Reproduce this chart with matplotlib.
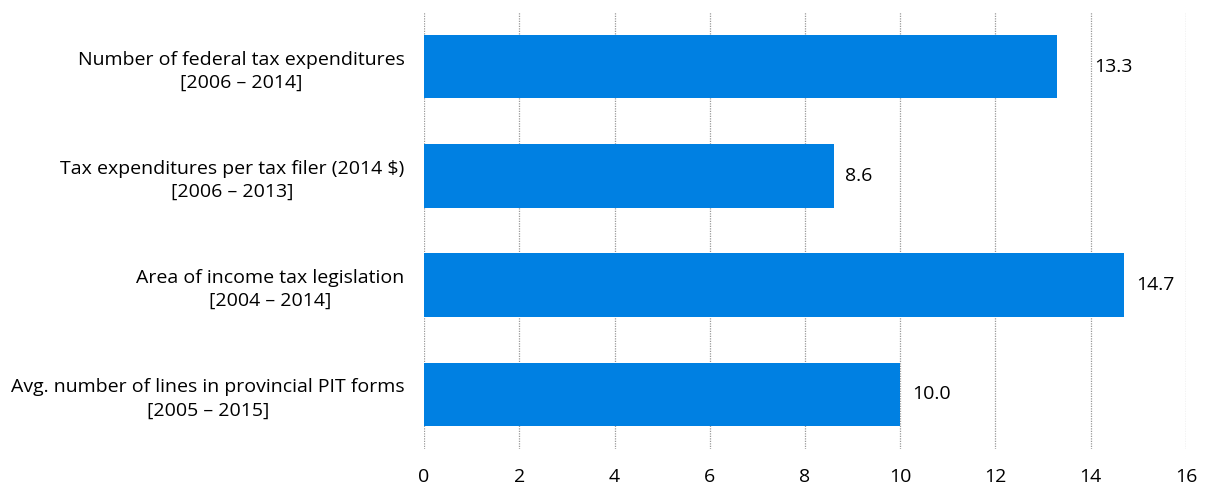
import matplotlib.pyplot as plt

plt.rcParams['font.family'] = ['Open Sans', 'DejaVu Sans']

categories = [
    "Number of federal tax expenditures\n[2006 \u2013 2014]",
    "Tax expenditures per tax filer (2014 $)\n[2006 \u2013 2013]",
    "Area of income tax legislation\n[2004 \u2013 2014]",
    "Avg. number of lines in provincial PIT forms\n[2005 \u2013 2015]",
]
values = [13.3, 8.6, 14.7, 10.0]
xticks = [0, 2, 4, 6, 8, 10, 12, 14, 16]

fig = plt.figure(figsize=(12.06, 4.87), dpi=100)
ax = fig.add_axes([0.3516, 0.078, 0.6318, 0.8974])

pos = list(range(len(values)))
ax.barh(pos, values, height=0.58, color="#0080E2", zorder=2)
for p, v in zip(pos, values):
    # keep the label clear of the dotted gridlines
    x = v + 0.25
    for t in xticks:
        if x < t < x + 0.85:
            x = t + 0.08
    ax.text(x, p, f"{v:.1f}", va="center", ha="left", fontsize=14, color="#000000")

ax.set_ylim(3.5, -0.5)
ax.set_xlim(0, 16)
ax.set_yticks(pos)
ax.set_yticklabels(categories, fontsize=14, multialignment="center",
                   linespacing=1.35, color="#000000")
ax.set_xticks(xticks)
ax.set_xticklabels([str(t) for t in xticks], fontsize=14, color="#000000")
ax.tick_params(axis="both", length=0)
ax.tick_params(axis="y", pad=14)
ax.tick_params(axis="x", pad=14)
ax.grid(axis="x", linestyle=(0, (1, 1)), color="#999999", linewidth=0.9, zorder=0)
for s in ax.spines.values():
    s.set_visible(False)

fig.savefig("out.png", dpi=100)
